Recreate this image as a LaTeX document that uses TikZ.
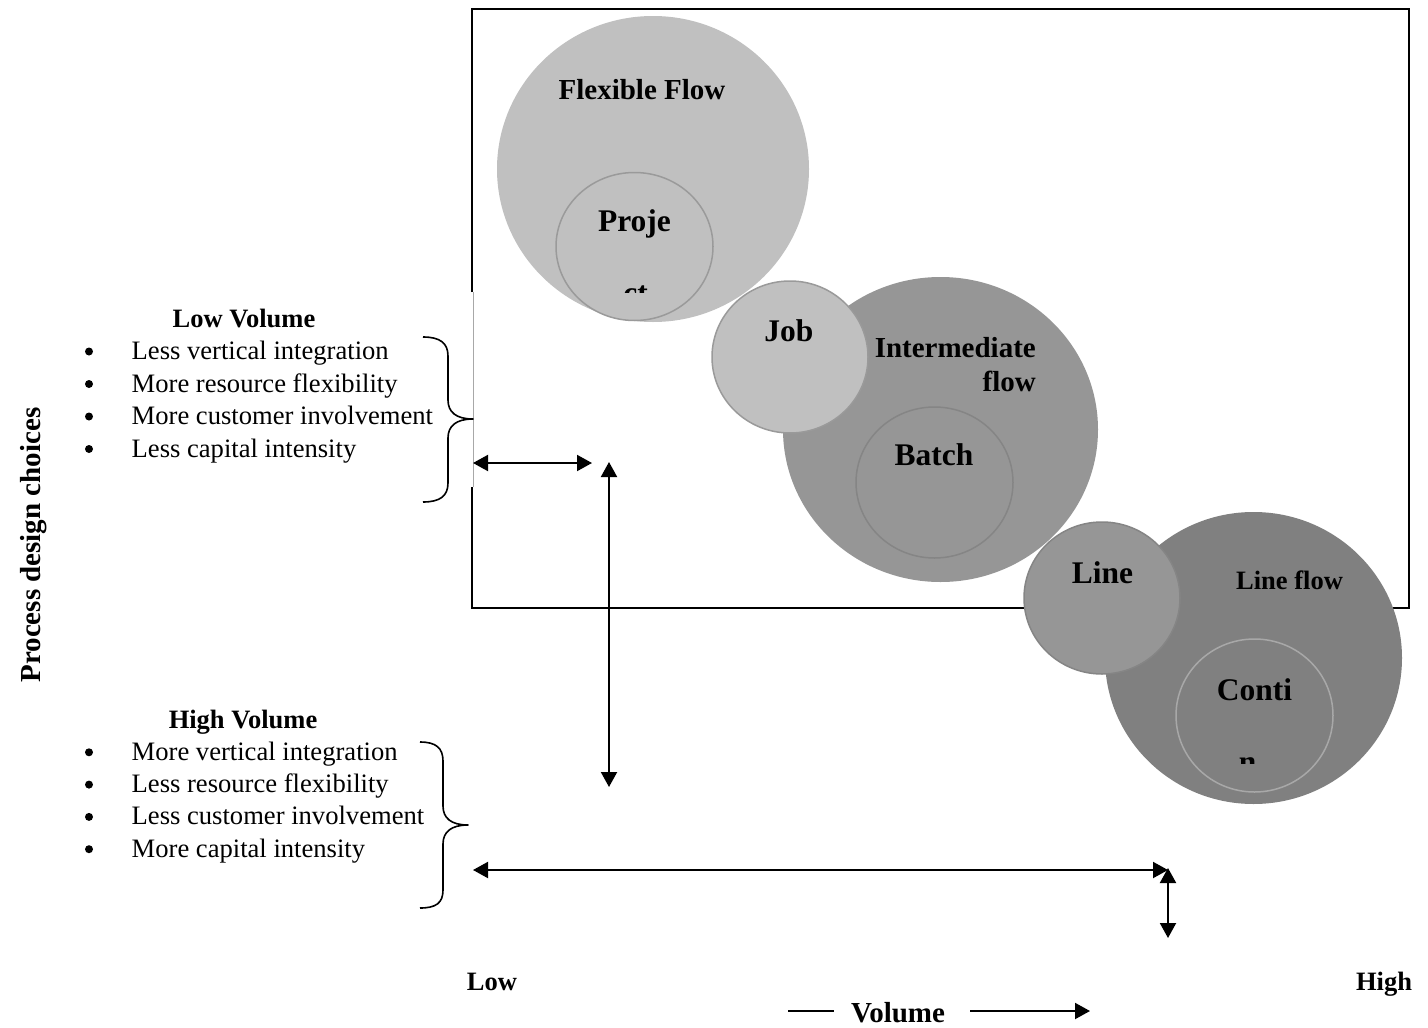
\documentclass[tikz,border=0pt]{standalone}
\usepackage{fontspec}
\setmainfont{Liberation Serif}
\usetikzlibrary{arrows.meta,shapes.geometric}
\definecolor{grayA}{HTML}{C0C0C0}
\definecolor{grayB}{HTML}{969696}
\definecolor{grayC}{HTML}{808080}
\definecolor{rimA}{HTML}{9A9A9A}
\definecolor{rimB}{HTML}{858585}
\definecolor{rimC}{HTML}{A8A8A8}
\begin{document}
\begin{tikzpicture}[x=1pt,y=-1pt,
  blob/.style={ellipse,inner sep=0pt,outer sep=0pt},
  big/.style={anchor=base,inner sep=0pt,font=\bfseries\fontsize{31.5}{36}\selectfont},
  mid/.style={anchor=base,inner sep=0pt,font=\bfseries\fontsize{29}{34}\selectfont},
  small/.style={anchor=base,inner sep=0pt,font=\bfseries\fontsize{26.5}{32}\selectfont},
  item/.style={anchor=base west,inner sep=0pt,font=\fontsize{26.6}{32}\selectfont},
  dot/.style={circle,fill=black,inner sep=0pt,minimum size=8pt},
  brace/.style={line width=1.6pt,line join=round},
  dbl/.style={line width=2pt,{Triangle[length=15pt,width=16pt]}-{Triangle[length=15pt,width=16pt]}},
  single/.style={line width=2pt,-{Triangle[length=15pt,width=16pt]}},
  plain/.style={line width=2pt}]

\useasboundingbox[fill=white] (0,0) rectangle (1428,1028);

% frame around the process map
\draw[line width=2pt] (472,292) -- (472,9) -- (1409,9) -- (1409,608) -- (472,608) -- (472,487);
\draw[line width=0.8pt,color=rimC] (473,292) -- (473,487);

% flexible flow group
\node[blob,fill=grayA,minimum width=312pt,minimum height=306pt] (flex) at (653,169) {};
\node[blob,fill=grayA,draw=rimA,line width=1.5pt,minimum width=157pt,minimum height=148pt] (proj) at (634.5,246.5) {};

% intermediate flow group
\node[blob,fill=grayB,minimum width=315pt,minimum height=305pt] (inter) at (940.5,429.5) {};
\node[blob,fill=grayB,draw=rimB,line width=1.5pt,minimum width=157pt,minimum height=151pt] (batch) at (934.5,482.5) {};
\node[blob,fill=grayA,draw=rimA,line width=1.5pt,minimum width=156pt,minimum height=152pt] (job) at (790,357) {};

% line flow group
\node[blob,fill=grayC,minimum width=297pt,minimum height=292pt] (lflow) at (1253.5,658) {};
\node[blob,fill=grayC,draw=rimC,line width=1.5pt,minimum width=157pt,minimum height=153pt] (cont) at (1254.5,715.5) {};
\node[blob,fill=grayB,draw=rimB,line width=1.5pt,minimum width=156pt,minimum height=152pt] (line) at (1102,598) {};

% labels inside the circles
\node[mid] (tflex) at (642,99) {Flexible Flow};
\node[big] (tproj) at (634.5,231) {Proje};
\begin{scope}
  \clip (590,260) rectangle (680,292);
  \node[big] (tproj2) at (635.5,303) {ct};
\end{scope}
\node[big] (tjob) at (789,341) {Job};
\node[mid,anchor=base east] (tinter) at (1036,357) {Intermediate};
\node[mid,anchor=base east] (tinter2) at (1036,391) {flow};
\node[big] (tbatch) at (934,465) {Batch};
\node[big] (tline) at (1102.5,583) {Line};
\node[small] (tlflow) at (1289.5,589) {Line flow};
\node[big] (tcont) at (1254.5,700) {Conti};
\begin{scope}
  \clip (1200,735) rectangle (1300,763);
  \node[big] (tcont2) at (1247.5,772) {n};
\end{scope}

% low volume list
\node[small] (lowhead) at (244,327) {Low Volume};
\foreach \t [count=\i] in {Less vertical integration,More resource flexibility,More customer involvement,Less capital intensity}{
  \node[dot] (lowdot\i) at (89,{327+32.5*\i-8}) {};
  \node[item] (lowitem\i) at (131.5,{327+32.5*\i}) {\t};
}
% high volume list
\node[small] (highhead) at (243,728) {High Volume};
\foreach \t [count=\i] in {More vertical integration,Less resource flexibility,Less customer involvement,More capital intensity}{
  \node[dot] (highdot\i) at (89,{728+32.3*\i-8}) {};
  \node[item] (highitem\i) at (131.5,{728+32.3*\i}) {\t};
}

% braces
\draw[brace] (423,337) .. controls (440,337) and (448,343) .. (448,356)
  -- (448,400) .. controls (448,412) and (456,419) .. (473,419)
  .. controls (456,419) and (448,426) .. (448,438)
  -- (448,483) .. controls (448,496) and (440,502) .. (423,502);
\draw[brace] (420,742) .. controls (436,742) and (443,748) .. (443,761)
  -- (443,806) .. controls (443,818) and (451,825) .. (468,825)
  .. controls (451,825) and (443,832) .. (443,844)
  -- (443,890) .. controls (443,903) and (436,908) .. (420,908);

% arrows
\coordinate (h1a) at (473,463);
\coordinate (h1b) at (592,463);
\coordinate (v1a) at (609,462);
\coordinate (v1b) at (609,787);
\coordinate (h2a) at (473,870);
\coordinate (h2b) at (1168,870);
\coordinate (v2a) at (1168,868);
\coordinate (v2b) at (1168,938);
\draw[dbl] (h1a) -- (h1b);
\draw[dbl] (v1a) -- (v1b);
\draw[dbl] (h2a) -- (h2b);
\draw[dbl] (v2a) -- (v2b);

% axis labels
\node[small] (low) at (492,990) {Low};
\node[small] (high) at (1384,990) {High};
\node[mid] (vol) at (898,1022) {Volume};
\coordinate (va) at (788,1011);
\coordinate (vb) at (834,1011);
\coordinate (vc) at (970,1011);
\coordinate (vd) at (1090,1011);
\draw[plain] (va) -- (vb);
\draw[single] (vc) -- (vd);

\node[mid,rotate=90] (axis) at (40,545) {Process design choices};
\end{tikzpicture}
\end{document}
